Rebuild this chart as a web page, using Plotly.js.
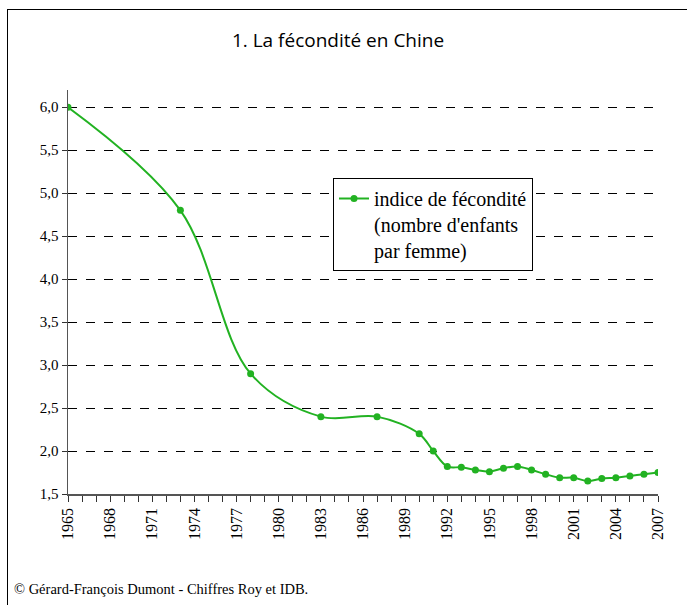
<!DOCTYPE html>
<html>
<head>
<meta charset="utf-8">
<script src="https://cdn.plot.ly/plotly-3.0.1.min.js"></script>
<style>
  html, body { margin: 0; padding: 0; background: #fff; }
  #wrap { position: relative; width: 687px; height: 605px; }
  #chart { width: 687px; height: 605px; }
  #frame { position: absolute; left: 7px; top: 9px; right: 0; bottom: 0;
           border-left: 1.5px solid #000; border-top: 1.5px solid #000; pointer-events: none; }
</style>
</head>
<body>
<div id="wrap">
  <div id="chart"></div>
  <div id="frame"></div>
</div>
<script>
const years = [1965, 1973, 1978, 1983, 1987, 1990, 1991, 1992, 1993, 1994, 1995, 1996, 1997, 1998, 1999, 2000, 2001, 2002, 2003, 2004, 2005, 2006, 2007];
const fertility = [6.0, 4.8, 2.9, 2.4, 2.4, 2.2, 2.0, 1.82, 1.81, 1.78, 1.76, 1.80, 1.82, 1.78, 1.73, 1.69, 1.69, 1.65, 1.68, 1.69, 1.71, 1.73, 1.75];
const seriesName = "indice de fécondité<br>(nombre d'enfants<br>par femme)";
const chartTitle = "1. La fécondité en Chine";
const sourceNote = "© Gérard-François Dumont - Chiffres Roy et IDB.";
const yTicks = [1.5, 2.0, 2.5, 3.0, 3.5, 4.0, 4.5, 5.0, 5.5, 6.0];

const green = 'rgb(34,178,34)';
const serif = 'Liberation Serif, serif';

const trace = {
  x: years,
  y: fertility,
  type: 'scatter',
  mode: 'lines+markers',
  name: seriesName,
  line: { color: green, width: 2, shape: 'spline', smoothing: 1 },
  marker: { color: green, size: 7 }
};

const layout = {
  width: 687,
  height: 605,
  margin: { l: 68, r: 29, t: 90, b: 111 },
  paper_bgcolor: '#fff',
  plot_bgcolor: '#fff',
  separators: ', ',
  showlegend: true,
  title: {
    text: chartTitle,
    font: { family: 'Open Sans, sans-serif', size: 19, color: '#000' },
    x: 0.492, xanchor: 'center',
    y: 1 - 40 / 605, yanchor: 'middle'
  },
  xaxis: {
    range: [1965, 2007],
    tickmode: 'linear', tick0: 1965, dtick: 3,
    tickangle: -90,
    ticks: 'outside', ticklen: 6, tickwidth: 1, tickcolor: '#333',
    minor: { tickmode: 'linear', tick0: 1965, dtick: 1, ticks: 'outside', ticklen: 6, tickwidth: 1, tickcolor: '#333', showgrid: false },
    showline: true, linecolor: '#555', linewidth: 1.5,
    showgrid: false, zeroline: false,
    tickfont: { family: serif, size: 16, color: '#000' }
  },
  yaxis: {
    range: [1.5, 6.2],
    tickmode: 'array', tickvals: yTicks,
    tickformat: '.1f',
    ticks: 'outside', ticklen: 5, tickwidth: 1, tickcolor: '#333',
    showline: true, linecolor: '#555', linewidth: 1.5,
    showgrid: true, gridcolor: '#000', gridwidth: 1, griddash: 'dash',
    zeroline: false,
    tickfont: { family: serif, size: 15, color: '#000' }
  },
  legend: {
    x: (333 - 68) / 590, xanchor: 'left',
    y: (494 - 178) / 404, yanchor: 'top',
    bgcolor: '#fff', bordercolor: '#000', borderwidth: 1,
    valign: 'top',
    font: { family: serif, size: 20, color: '#000' }
  },
  annotations: [{
    text: sourceNote,
    xref: 'paper', yref: 'paper',
    x: -56 / 590, xanchor: 'left',
    y: -(589 - 494) / 404, yanchor: 'middle',
    showarrow: false,
    font: { family: serif, size: 14.5, color: '#000' }
  }]
};

Plotly.newPlot('chart', [trace], layout, { displayModeBar: false, staticPlot: true });
</script>
</body>
</html>
